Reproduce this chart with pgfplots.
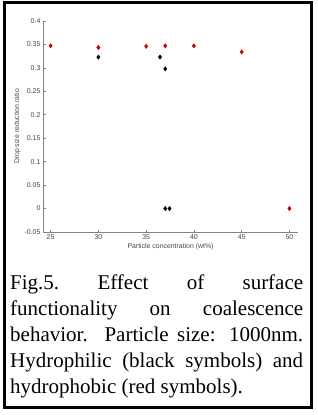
\documentclass[border=0pt]{standalone}
\usepackage{fontspec}
\setmainfont{Liberation Sans}
\newfontfamily\capfont{Liberation Serif}
\usepackage{pgfplots}
\pgfplotsset{compat=1.18}
\definecolor{mred}{RGB}{204,0,0}
\definecolor{axgray}{RGB}{130,130,130}
\definecolor{lblgray}{RGB}{70,70,70}
\begin{document}
\begin{tikzpicture}
\useasboundingbox (0pt,0pt) rectangle (318pt,-415pt);
\draw[line width=3pt] (4pt,-2.5pt) rectangle (311.5pt,-407.5pt);
\begin{axis}[at={(43pt,-232pt)}, anchor=south west,
  width=255pt, height=211pt, scale only axis,
  xmin=24.2, xmax=50.9, ymin=-0.05, ymax=0.4,
  axis x line*=bottom, axis y line*=left,
  xtick={25,30,35,40,45,50},
  ytick={-0.05,0,0.05,0.1,0.15,0.2,0.25,0.3,0.35,0.4},
  yticklabels={-0.05,0,0.05,0.1,0.15,0.2,0.25,0.3,0.35,0.4},
  xticklabels={25,30,35,40,45,50},
  tick align=inside, major tick length=2.5pt,
  axis line style={axgray, line width=0.8pt},
  tick style={axgray, line width=0.6pt},
  tick label style={font=\fontsize{7}{8}\selectfont, text=lblgray},
  /pgf/number format/assume math mode=true,
  xticklabel style={yshift=1pt},
  yticklabel style={xshift=1pt},
  xlabel={Particle concentration (wt\%)},
  ylabel={Drop size reduction ratio},
  label style={font=\fontsize{6.9}{8}\selectfont, text=lblgray},
  xlabel style={yshift=3pt},
  ylabel style={yshift=-3pt},
  clip=false]
\addplot[only marks, mark=diamond*, mark size=2.2pt, color=black] coordinates {
 (30,0.323) (36.45,0.323) (37,0.298) (37,0) (37.45,0)};
\addplot[only marks, mark=diamond*, mark size=2.2pt, color=mred] coordinates {
 (25,0.347) (30,0.3435) (35,0.346) (37,0.347) (40,0.347) (45,0.334) (50,0)};
\end{axis}
\node[anchor=north west, inner sep=0pt, text width=293pt, align=justify,
  font=\capfont\fontsize{21}{25.8}\selectfont] at (10pt,-275pt)
  {Fig.5.\ Effect of surface\linebreak functionality on coalescence\linebreak behavior. Particle size: 1000nm.\linebreak Hydrophilic (black symbols) and\linebreak hydrophobic (red symbols).};
\end{tikzpicture}
\end{document}
